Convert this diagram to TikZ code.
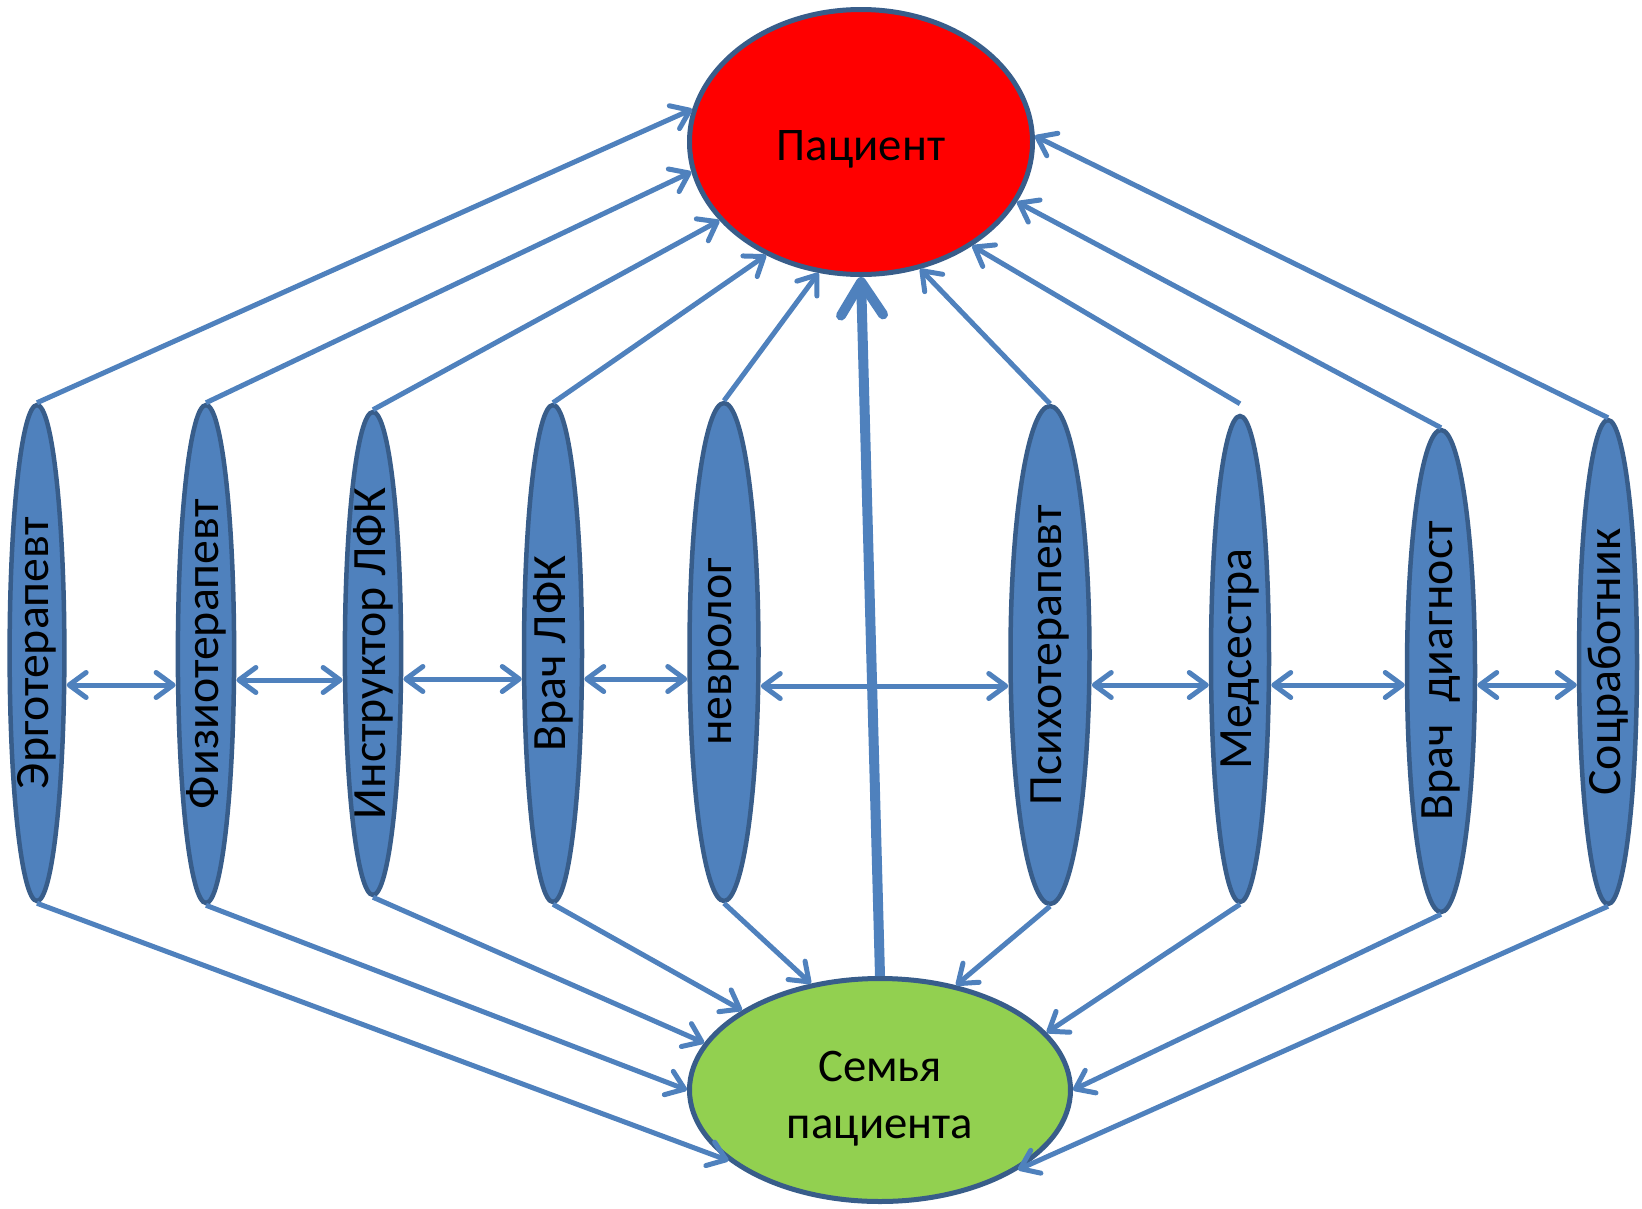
\documentclass[tikz,border=0pt]{standalone}
\usepackage{fontspec}
\setmainfont{Carlito}
\usepackage{graphicx}
\usetikzlibrary{arrows.meta}
\usetikzlibrary{shapes.geometric}
\definecolor{linkblue}{RGB}{79,129,189}
\definecolor{rimblue}{RGB}{56,93,138}
\definecolor{famgreen}{RGB}{146,208,80}

\begin{document}
\begin{tikzpicture}[>={Straight Barb[length=0.17cm, width=0.25cm, round]}]
\tikzset{conn/.style={draw=linkblue, line width=0.05cm}}
\tikzset{big/.style={draw=linkblue, line width=0.1cm, -{Straight Barb[length=0.33cm, width=0.42cm, round]}}}
\tikzset{spec/.style={ellipse, draw=rimblue, fill=linkblue, line width=0.045cm, inner sep=0pt, font=\fontsize{13.6}{16}\selectfont}}
\tikzset{hub/.style={ellipse, draw=rimblue, line width=0.05cm, inner sep=0pt, align=center, font=\fontsize{13.3}{16.2}\selectfont}}
\useasboundingbox (0,0) rectangle (16.42,12.08);
\node[hub, fill=red, minimum width=3.43cm, minimum height=2.65cm, text height=0.5cm, text depth=0.14cm] (pat) at (8.61,10.66) {Пациент};
\node[hub, fill=famgreen, minimum width=3.81cm, minimum height=2.23cm, text height=1.1cm, text depth=0.14cm] (fam) at (8.80,1.18) {Семья\\пациента};
\node[spec, minimum width=0.52cm, minimum height=4.96cm] (ergo) at (0.37,5.55) {\rotatebox{90}{Эрготерапевт}};
\node[spec, minimum width=0.56cm, minimum height=4.98cm] (fizio) at (2.06,5.54) {\rotatebox{90}{Физиотерапевт}};
\node[spec, minimum width=0.56cm, minimum height=4.83cm] (instr) at (3.73,5.545) {\rotatebox{90}{Инструктор ЛФК}};
\node[spec, minimum width=0.58cm, minimum height=4.97cm] (vrachlfk) at (5.53,5.545) {\rotatebox{90}{Врач ЛФК}};
\node[spec, minimum width=0.69cm, minimum height=4.98cm] (nevro) at (7.24,5.56) {\rotatebox{90}{невролог}};
\node[spec, minimum width=0.79cm, minimum height=4.98cm] (psih) at (10.50,5.53) {\rotatebox{90}{Психотерапевт}};
\node[spec, minimum width=0.58cm, minimum height=4.86cm] (medsestra) at (12.40,5.49) {\rotatebox{90}{Медсестра}};
\node[spec, minimum width=0.68cm, minimum height=4.82cm] (diagn) at (14.41,5.37) {\rotatebox{90}{Врач\ \ диагност}};
\node[spec, minimum width=0.58cm, minimum height=4.84cm] (socrab) at (16.08,5.46) {\rotatebox{90}{Соцработник}};
\foreach \a/\b/\y in {ergo/fizio/5.23, fizio/instr/5.28, instr/vrachlfk/5.29, vrachlfk/nevro/5.29, nevro/psih/5.22, psih/medsestra/5.23, medsestra/diagn/5.23, diagn/socrab/5.23}
  \draw[conn, <->] (\a.east |- 0,\y) -- (\b.west |- 0,\y);
\foreach \s/\t in {ergo/169, fizio/190, instr/209, vrachlfk/230, nevro/252, psih/295, diagn/339, socrab/2}
  \draw[conn, ->] (\s.north) -- (pat.\t);
\draw[conn, ->] ([yshift=0.1cm]medsestra.north) -- (pat.317);
\foreach \s/\t in {ergo/205, fizio/180, instr/165, vrachlfk/150, nevro/123, psih/54, medsestra/19, diagn/0, socrab/330}
  \draw[conn, ->] (\s.south) -- (fam.\t);
\draw[big] (fam.north) -- (pat.south);
\end{tikzpicture}
\end{document}
